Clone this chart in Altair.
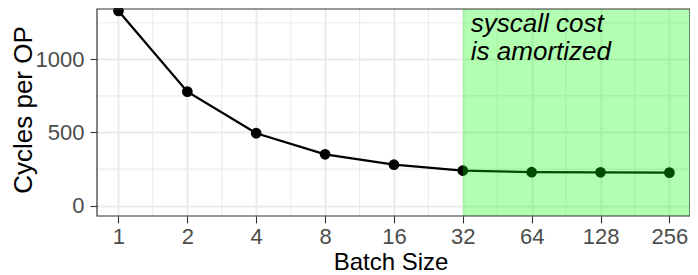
import altair as alt
import pandas as pd
import numpy as np

# ---- data ----
batch_sizes = [1, 2, 4, 8, 16, 32, 64, 128, 256]
cycles_per_op = [1330, 779, 495, 351, 280, 240, 229, 228, 226]
amortized_from = [32]
annotation = ["syscall cost", "is amortized"]
x_tick_labels = ["1", "2", "4", "8", "16", "32", "64", "128", "256"]
y_ticks = [0, 500, 1000]
y_minor = [250, 750, 1250]

# ---- layout ----
LEFT = 89
W, H = 593, 207
FONT = "Liberation Sans"
XDOM = [-0.312, 8.299]
YDOM = [-70.4, 1343.6]

df = pd.DataFrame({
    "lb": np.log2(batch_sizes),
    "batch": batch_sizes,
    "cycles": cycles_per_op,
})
x_major = list(range(len(batch_sizes)))
x_minor = [v + 0.5 for v in x_major[:-1]]
minor_x_df = pd.DataFrame({"lb": x_minor})
minor_y_df = pd.DataFrame({"cycles": y_minor})
shade_df = pd.DataFrame({"lb": np.log2(amortized_from)})

xs = alt.Scale(domain=XDOM, nice=False, zero=False)
ys = alt.Scale(domain=YDOM, nice=False, zero=False)

label_expr = "[" + ",".join("'%s'" % t for t in x_tick_labels) + "][round(datum.value)]"

x_axis = alt.Axis(
    values=x_major, labelExpr=label_expr, title="Batch Size",
    titleFont=FONT, titleFontSize=24, titleFontWeight="normal", titleColor="black",
    titleBaseline="alphabetic", titleY=53.7, titleX=W / 2 - 3, titleAlign="center",
    labelFont=FONT, labelFontSize=22, labelColor="#4d4d4d", labelPadding=3.5,
    tickSize=7, tickColor="#333333", tickWidth=1.1, domain=False,
    grid=True, gridColor="#ebebeb", gridWidth=2,
)
y_axis = alt.Axis(
    values=y_ticks, format="d", title="Cycles per OP",
    titleFont=FONT, titleFontSize=26, titleFontWeight="normal", titleColor="black",
    titleAngle=270, titleBaseline="alphabetic", titleAlign="center",
    titleX=23.5 - LEFT, titleY=H / 2 - 3,
    labelFont=FONT, labelFontSize=22, labelColor="#4d4d4d", labelPadding=6,
    tickSize=7, tickColor="#333333", tickWidth=1.1, domain=False,
    grid=True, gridColor="#ebebeb", gridWidth=2,
)

X = alt.X("lb:Q", scale=xs, axis=x_axis)
Y = alt.Y("cycles:Q", scale=ys, axis=y_axis)

minor_x = alt.Chart(minor_x_df).mark_rule(color="#ebebeb", strokeWidth=1.1).encode(
    x=X, y=alt.value(0), y2=alt.value(H),
)
minor_y = alt.Chart(minor_y_df).mark_rule(color="#ebebeb", strokeWidth=1.1).encode(
    y=Y, x=alt.value(0), x2=alt.value(W),
)

line = alt.Chart(df).mark_line(color="black", strokeWidth=2.3).encode(x=X, y=Y)
points = alt.Chart(df).mark_point(filled=True, color="black", opacity=1, size=115).encode(x=X, y=Y)

shade = alt.Chart(shade_df).mark_rect(color="#00ff00", opacity=0.3).encode(
    x=X, x2=alt.value(W), y=alt.value(0), y2=alt.value(H),
)

label = alt.Chart(shade_df).mark_text(
    text=annotation, align="left", baseline="alphabetic", dx=8,
    font=FONT, fontSize=26, fontStyle="italic", lineHeight=28, color="black",
).encode(x=X, y=alt.value(22.5))

border = alt.Chart(shade_df).mark_rect(fill=None, stroke="#333333", strokeWidth=1.2).encode(
    x=alt.value(0), x2=alt.value(W), y=alt.value(0), y2=alt.value(H),
)

chart = alt.layer(minor_x, minor_y, line, points, shade, label, border).properties(
    width=W, height=H,
    autosize=alt.AutoSizeParams(type="none"),
    padding={"left": LEFT, "top": 1, "right": 0, "bottom": 59},
    background="white",
).configure_view(stroke=None)

chart.save("out.html", embed_options={"renderer": "svg", "actions": False})
